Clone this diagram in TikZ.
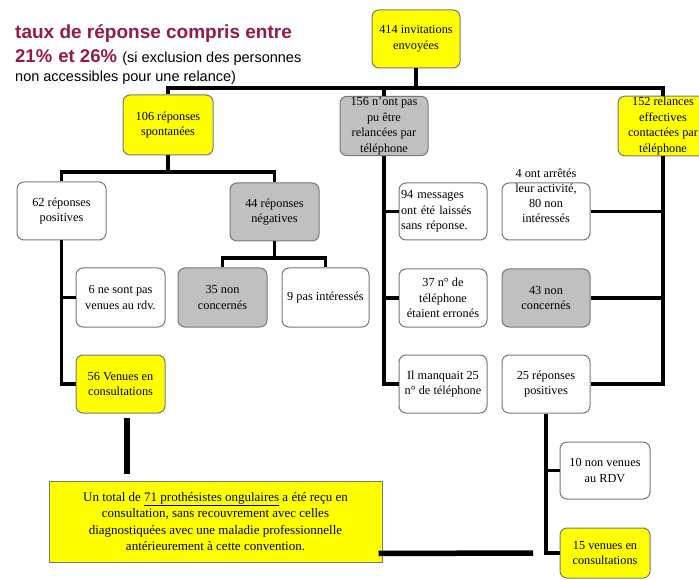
\documentclass[tikz,border=0pt]{standalone}
\usepackage{fontspec}
\setmainfont{Liberation Serif}
\newfontfamily\titlesans{Liberation Sans}
\definecolor{titlecol}{RGB}{150,25,75}
\definecolor{boxyellow}{RGB}{255,255,0}
\definecolor{boxgray}{RGB}{192,192,192}
\definecolor{boxedge}{RGB}{120,120,120}
\tikzset{
 box/.style={draw=boxedge, line width=1pt, rounded corners=7pt, align=center, inner sep=1pt,
   font=\fontsize{12.3}{15.5}\selectfont, minimum width=88pt, minimum height=58pt},
 wbox/.style={box, fill=white},
 gbox/.style={box, fill=boxgray},
 ybox/.style={box, fill=boxyellow},
 conn/.style={line width=3.8pt, draw=black},
 connb/.style={line width=5.5pt, draw=black},
 titleA/.style={anchor=base west, inner sep=0pt, text=titlecol, font=\titlesans\bfseries\fontsize{19}{20}\selectfont},
 titleB/.style={anchor=base west, inner sep=0pt, text=black, font=\titlesans\fontsize{14.5}{16}\selectfont},
}
\begin{document}
\begin{tikzpicture}[x=1pt, y={(0pt,-1pt)}]
\useasboundingbox[fill=white] (0,0) rectangle (699,580);

% title
\node[titleA] (t1) at (15,39) {taux de réponse compris entre};
\node[titleA, font=\titlesans\bfseries\fontsize{18.5}{20}\selectfont] (t2) at (15,63) {21\%\,\,et 26\%};
\node[titleB, xshift=5pt] (t2b) at (t2.base east) {(si exclusion des personnes};
\node[titleB] (t3) at (15,82) {non accessibles pour une relance)};

% boxes
\node[ybox] (n414) at (416,39) {414 invitations\\envoyées};
\node[ybox, minimum width=90pt, minimum height=60pt] (n106) at (168,125) {106 réponses\\spontanées};
\node[gbox] (n156) at (384,126) {156 n'ont pas\\pu être\\relancées par\\téléphone};
\node[ybox, minimum width=90pt] (n152) at (663,126) {152 relances\\effectives\\contactées par\\téléphone};

\node[wbox, minimum width=89pt] (n62) at (61.5,211) {62 réponses\\positives};
\node[gbox, minimum width=89pt] (n44) at (274.5,212) {44 réponses\\négatives};

\node[wbox, minimum width=89pt, minimum height=59pt] (n6) at (120.5,297.5) {6 ne sont pas\\venues au rdv.};
\node[gbox, minimum width=89pt, minimum height=59pt] (n35) at (222.5,297.5) {35 non\\concernés};
\node[wbox, minimum width=87pt, minimum height=59pt] (n9) at (325.5,297.5) {9 pas intéressés};
\node[ybox, minimum width=89pt] (n56) at (120.5,384) {56 Venues en\\consultations};

\node[wbox, minimum height=57pt, text width=84pt, align=left] (n94) at (443,211.5) {94 messages\\ont été laissés\\sans réponse.};
\node[wbox, minimum height=57pt] (n4) at (546,211.5) {};
\node[align=center, inner sep=0pt, font=\fontsize{12.3}{15}\selectfont, yshift=16pt] (n4t) at (n4.center) {4 ont arrêtés\\leur activité,\\80 non\\intéressés};
\node[wbox] (n37) at (443,298) {37 n° de\\téléphone\\étaient erronés};
\node[gbox] (n43) at (546,298) {43 non\\concernés};
\node[wbox] (nIl) at (443,384) {Il manquait 25\\n° de téléphone};
\node[wbox] (n25) at (546,384) {25 réponses\\positives};

\node[wbox, minimum width=90pt, minimum height=57pt] (n10) at (605,470.5) {10 non venues\\au RDV};
\node[ybox, minimum width=90pt, minimum height=50pt] (n15) at (605,553) {15 venues en\\consultations};

\node[box, fill=boxyellow, rounded corners=0pt, minimum width=333pt, minimum height=81pt,
      font=\fontsize{13}{16.5}\selectfont] (ntotal) at (215.5,521.5)
 {Un total de \underline{71 prothésistes ongulaires} a été reçu en\\consultation, sans recouvrement avec celles\\diagnostiquées avec une maladie professionnelle\\antérieurement à cette convention.};

% connectors
\coordinate (bus1) at (0,88);
\coordinate (bus2) at (0,172);
\coordinate (bus3) at (0,258);
\draw[conn] (n414.south) -- (n414.south |- bus1);
\draw[conn] (n106.north) -- (n106.north |- bus1) -- (n152.north |- bus1) -- (n152.north);
\draw[conn] (n156.north) -- (n156.north |- bus1);

\draw[conn] (n106.south) -- (n106.south |- bus2);
\draw[conn] (n62.north) -- (n62.north |- bus2) -- (n44.north |- bus2) -- (n44.north);

\draw[conn] (n44.south) -- (n44.south |- bus3);
\draw[conn] (n35.north) -- (n35.north |- bus3) -- (n9.north |- bus3) -- (n9.north);

\draw[conn] (n62.south) |- (n56.west);
\draw[conn] (n62.south |- n6.west) -- (n6.west);

\draw[conn] (n156.south) |- (nIl.west);
\draw[conn] (n156.south |- n94.west) -- (n94.west);
\draw[conn] (n156.south |- n37.west) -- (n37.west);

\draw[conn] (n152.south) |- (n25.east);
\draw[conn] (n152.south |- n4.east) -- (n4.east);
\draw[conn] (n152.south |- n43.east) -- (n43.east);

\draw[conn] (n25.south) |- (n15.west);
\draw[conn] (n25.south |- n10.west) -- (n10.west);

\draw[connb, shorten <=4pt, shorten >=7pt] ([xshift=6.5pt]n56.south) -- ([xshift=6.5pt]n56.south |- ntotal.north);
\coordinate (endp) at (533,553);
\draw[connb] ([xshift=-4pt, yshift=9pt]ntotal.south east) -- (endp);
\end{tikzpicture}
\end{document}
